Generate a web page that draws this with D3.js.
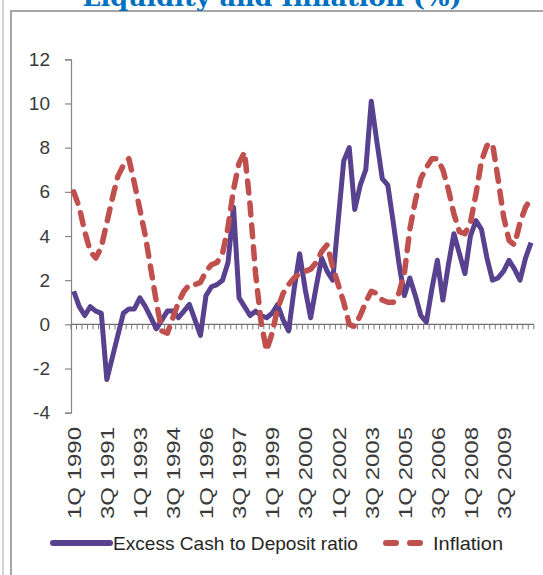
<!DOCTYPE html>
<html>
<head>
<meta charset="utf-8">
<script src="https://cdn.jsdelivr.net/npm/d3@7"></script>
<style>
  html, body { margin: 0; padding: 0; background: #ffffff; }
  svg { display: block; }
</style>
</head>
<body>
<svg id="chart" width="543" height="575"></svg>
<script>
// Quarterly categories, 1Q 1990 – 4Q 2010
const years = d3.range(1990, 2011);
const quarters = ["1Q", "2Q", "3Q", "4Q"];
const categories = years.flatMap(y => quarters.map(q => `${q} ${y}`));

// Labels shown on the category axis (every sixth quarter)
const tickLabels = ["1Q 1990", "3Q 1991", "1Q 1993", "3Q 1994", "1Q 1996", "3Q 1997", "1Q 1999",
  "3Q 2000", "1Q 2002", "3Q 2003", "1Q 2005", "3Q 2006", "1Q 2008", "3Q 2009"];

const yTicks = [-4, -2, 0, 2, 4, 6, 8, 10, 12];

// Excess cash to deposit ratio (%)
const excessCash = [
  1.5, 0.8, 0.4, 0.8, 0.6, 0.5, -2.5, -1.5, -0.5, 0.5, 0.7, 0.7,
  1.2, 0.8, 0.3, -0.2, 0.2, 0.6, 0.6, 0.3, 0.6, 0.9, 0.2, -0.5,
  1.3, 1.7, 1.8, 2.0, 2.8, 5.3, 1.2, 0.8, 0.4, 0.6, 0.4, 0.3,
  0.5, 0.9, 0.2, -0.3, 1.6, 3.2, 1.6, 0.3, 1.7, 3.0, 2.4, 2.0,
  4.7, 7.4, 8.0, 5.2, 6.3, 7.0, 10.1, 8.3, 6.6, 6.3, 4.6, 2.8,
  1.3, 2.1, 1.3, 0.4, 0.1, 1.6, 2.9, 1.1, 2.7, 4.1, 3.2, 2.3,
  4.0, 4.7, 4.3, 3.0, 2.0, 2.1, 2.4, 2.9, 2.5, 2.0, 3.0, 3.7
];

// Inflation (%)
const inflation = [
  6.0, 5.3, 4.2, 3.3, 3.0, 3.5, 4.6, 5.7, 6.7, 7.2, 7.5, 6.4,
  5.2, 4.0, 2.5, 1.0, -0.3, -0.4, 0.3, 1.0, 1.5, 1.8, 1.8, 1.9,
  2.4, 2.7, 2.8, 3.2, 4.4, 6.1, 7.3, 7.8, 5.4, 2.3, 0.1, -1.2,
  -0.4, 0.7, 1.4, 1.8, 2.1, 2.3, 2.4, 2.5, 2.8, 3.3, 3.6, 2.6,
  1.8, 1.0, 0.0, -0.1, 0.4, 1.0, 1.5, 1.4, 1.1, 1.0, 1.0, 1.4,
  2.3, 4.3, 5.6, 6.6, 7.1, 7.5, 7.5, 7.0, 6.1, 5.0, 4.2, 4.1,
  4.6, 5.9, 7.4, 8.1, 8.2, 6.6, 4.9, 3.8, 3.6, 4.6, 5.3, 5.7
];

const seriesNames = ["Excess Cash to Deposit ratio", "Inflation"];
const purple = "#58418e";
const red = "#c0504d";

const svg = d3.select("#chart");

// Outer frame
svg.append("line").attr("x1", 3).attr("x2", 3).attr("y1", 0).attr("y2", 575)
  .attr("stroke", "#d2d2d2").attr("stroke-width", 2);
svg.append("line").attr("x1", 11).attr("x2", 11).attr("y1", 11).attr("y2", 575)
  .attr("stroke", "#a6a6a6").attr("stroke-width", 2);
svg.append("line").attr("x1", 10).attr("x2", 543).attr("y1", 11).attr("y2", 11)
  .attr("stroke", "#a6a6a6").attr("stroke-width", 2);

// Title (sits partly above the top edge of the frame)
svg.append("text")
  .attr("x", 272).attr("y", 6)
  .attr("text-anchor", "middle")
  .attr("font-family", "'DejaVu Serif', 'Liberation Serif', serif")
  .attr("font-weight", "bold")
  .attr("font-size", 24)
  .attr("fill", "#0070c0")
  .attr("textLength", 379)
  .attr("lengthAdjust", "spacingAndGlyphs")
  .text("Liquidity and Inflation (%)");

// Scales
const x = d3.scaleBand().domain(categories).range([71, 533.8]).paddingInner(0).paddingOuter(0);
const cx = c => x(c) + x.bandwidth() / 2;
const y = d3.scaleLinear().domain([-4, 12]).range([412.7, 59.3]);

// Value axis
const yAxis = svg.append("g")
  .attr("transform", "translate(71,0)")
  .call(d3.axisLeft(y).tickValues(yTicks).tickSize(6).tickPadding(15).tickFormat(d => String(d)));
yAxis.select(".domain").attr("stroke", "#868686").attr("stroke-width", 1.2);
yAxis.selectAll(".tick line").attr("stroke", "#868686").attr("stroke-width", 1.2);
yAxis.selectAll(".tick text")
  .attr("font-family", "'Liberation Sans', Arial, sans-serif")
  .attr("font-size", 19)
  .attr("fill", "#3a3a3a");

// Category axis at zero
const xAxisG = svg.append("g");
xAxisG.append("line")
  .attr("x1", 71).attr("x2", 533.8)
  .attr("y1", y(0)).attr("y2", y(0))
  .attr("stroke", "#6e6e6e").attr("stroke-width", 1.2);
const boundaries = categories.map(c => x(c)).concat([x(categories[categories.length - 1]) + x.bandwidth()]);
xAxisG.selectAll("line.tick")
  .data(boundaries)
  .join("line")
  .attr("class", "tick")
  .attr("x1", d => d).attr("x2", d => d)
  .attr("y1", y(0)).attr("y2", y(0) + 5)
  .attr("stroke", "#7a7a7a").attr("stroke-width", 1);

xAxisG.selectAll("text.cat")
  .data(tickLabels)
  .join("text")
  .attr("class", "cat")
  .attr("transform", d => `translate(${cx(d) + 1},427) rotate(-90)`)
  .attr("text-anchor", "end")
  .attr("dy", "0.35em")
  .attr("font-family", "'Liberation Sans', Arial, sans-serif")
  .attr("font-size", 18)
  .attr("fill", "#3a3a3a")
  .attr("textLength", 92)
  .attr("lengthAdjust", "spacingAndGlyphs")
  .text(d => d);

// Series lines
const line = d3.line()
  .x((d, i) => cx(categories[i]))
  .y(d => y(d));

svg.append("path")
  .datum(excessCash)
  .attr("d", line)
  .attr("fill", "none")
  .attr("stroke", purple)
  .attr("stroke-width", 5)
  .attr("stroke-linejoin", "round");

svg.append("path")
  .datum(inflation)
  .attr("d", line)
  .attr("fill", "none")
  .attr("stroke", red)
  .attr("stroke-width", 5.5)
  .attr("stroke-dasharray", "12,10")
  .attr("stroke-linecap", "round")
  .attr("stroke-linejoin", "round");

// Legend
const legend = svg.append("g");
legend.append("line")
  .attr("x1", 53).attr("x2", 110).attr("y1", 543).attr("y2", 543)
  .attr("stroke", purple).attr("stroke-width", 6).attr("stroke-linecap", "round");
legend.append("text")
  .attr("x", 113).attr("y", 550)
  .attr("font-family", "'Liberation Sans', Arial, sans-serif")
  .attr("font-size", 19)
  .attr("fill", "#262626")
  .attr("textLength", 245)
  .attr("lengthAdjust", "spacingAndGlyphs")
  .text(seriesNames[0]);
legend.append("line")
  .attr("x1", 386).attr("x2", 420).attr("y1", 543).attr("y2", 543)
  .attr("stroke", red).attr("stroke-width", 6)
  .attr("stroke-dasharray", "10,14").attr("stroke-linecap", "round");
legend.append("text")
  .attr("x", 433).attr("y", 550)
  .attr("font-family", "'Liberation Sans', Arial, sans-serif")
  .attr("font-size", 19)
  .attr("fill", "#262626")
  .attr("textLength", 70)
  .attr("lengthAdjust", "spacingAndGlyphs")
  .text(seriesNames[1]);
</script>
</body>
</html>
